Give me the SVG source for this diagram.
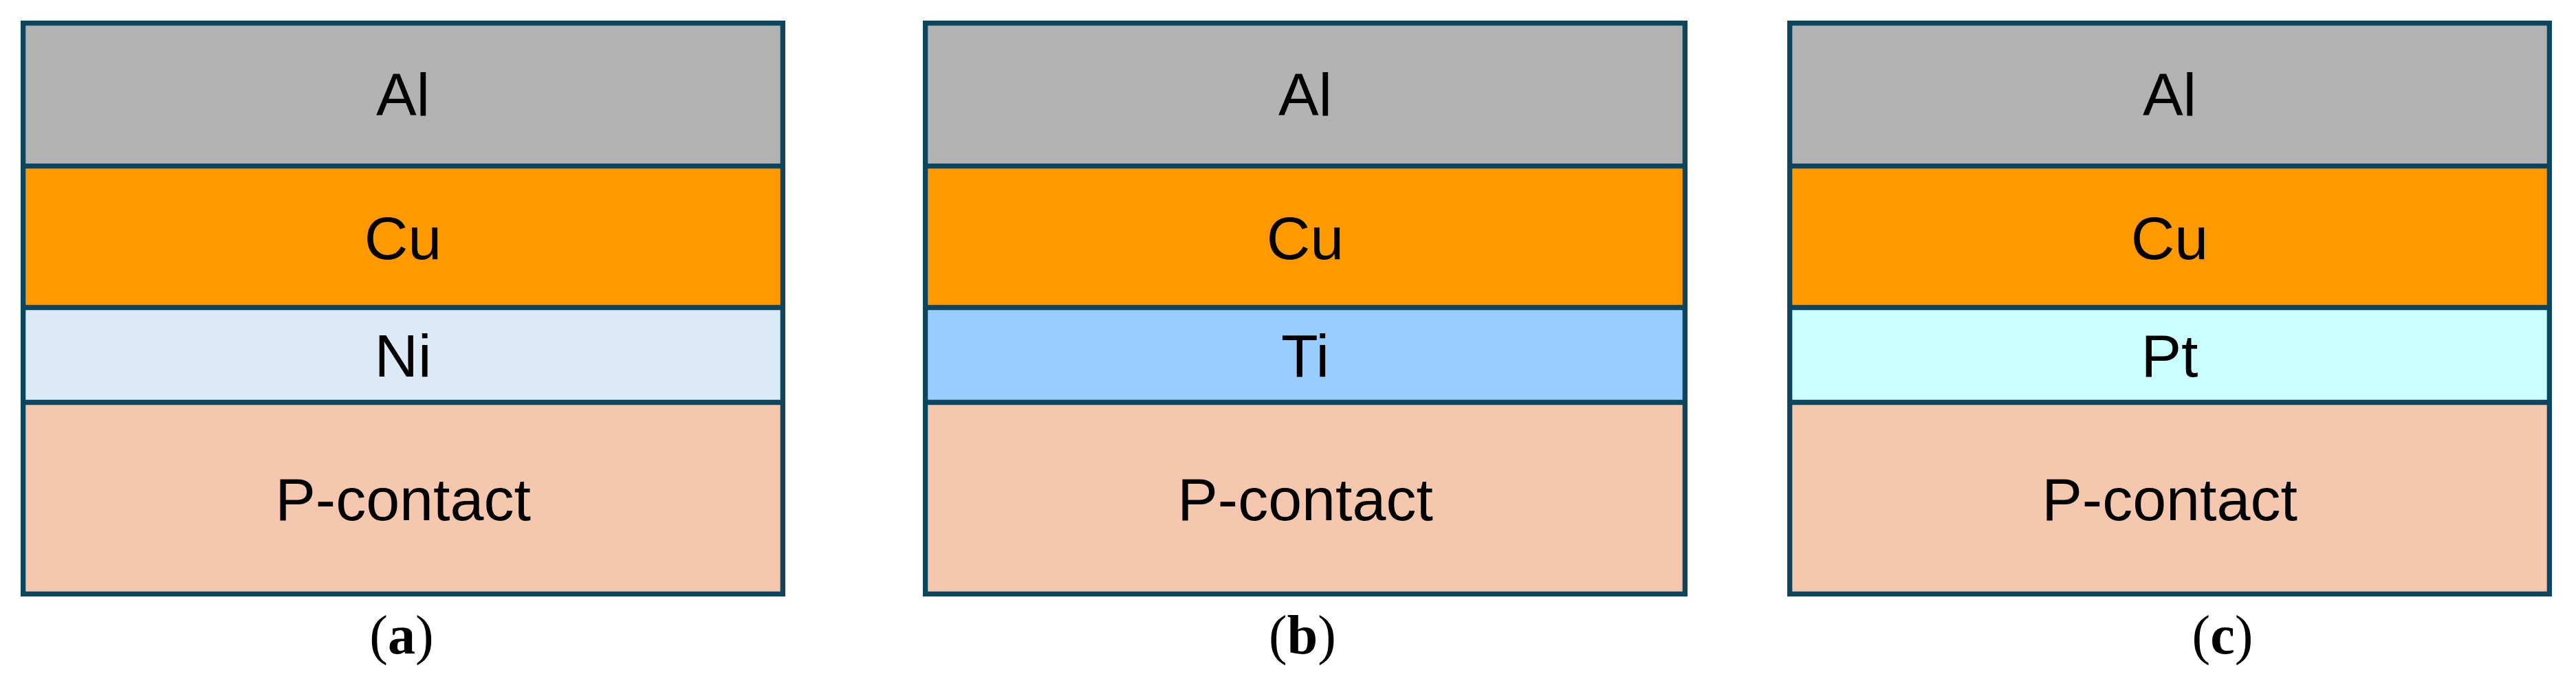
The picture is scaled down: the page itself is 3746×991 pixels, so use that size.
<svg xmlns="http://www.w3.org/2000/svg" width="3746" height="991" viewBox="0 0 3746 991">
<style>
.frame{fill:none;stroke:#0D455F;stroke-width:7.3}
.sep{stroke:#0D455F;stroke-width:7.3}
.al{fill:#B2B2B2}
.cu{fill:#FF9900}
.ni{fill:#DCE9F6}
.ti{fill:#99CCFF}
.pt{fill:#CCFFFF}
.pc{fill:#F5C7AE}
.lbl{font-family:"Liberation Sans","Open Sans",sans-serif;font-size:88px;fill:#000;text-anchor:middle}
.cap{font-family:"Liberation Serif","Times New Roman",serif;font-size:80px;fill:#000;text-anchor:middle}
.capb{font-weight:bold}
</style>
<rect width="3746" height="991" fill="#FFFFFF"/>
<g id="panel-a">
<rect class="al" x="33.65" y="33.65" width="1104.7" height="208"/>
<rect class="cu" x="33.65" y="241.65" width="1104.7" height="205.85"/>
<rect class="ni" x="33.65" y="447.5" width="1104.7" height="138"/>
<rect class="pc" x="33.65" y="585.5" width="1104.7" height="278.85"/>
<line class="sep" x1="30" y1="241.65" x2="1142" y2="241.65"/>
<line class="sep" x1="30" y1="447.5" x2="1142" y2="447.5"/>
<line class="sep" x1="30" y1="585.5" x2="1142" y2="585.5"/>
<rect class="frame" x="33.65" y="33.65" width="1104.7" height="830.7"/>
<text class="lbl" x="586" y="168">Al</text>
<text class="lbl" x="586" y="377">Cu</text>
<text class="lbl" x="586" y="548">Ni</text>
<text class="lbl" x="586" y="757">P-contact</text>
<text class="cap" x="584" y="951">(<tspan class="capb">a</tspan>)</text>
</g>
<g id="panel-b">
<rect class="al" x="1345.65" y="33.65" width="1104.7" height="208"/>
<rect class="cu" x="1345.65" y="241.65" width="1104.7" height="205.85"/>
<rect class="ti" x="1345.65" y="447.5" width="1104.7" height="138"/>
<rect class="pc" x="1345.65" y="585.5" width="1104.7" height="278.85"/>
<line class="sep" x1="1342" y1="241.65" x2="2454" y2="241.65"/>
<line class="sep" x1="1342" y1="447.5" x2="2454" y2="447.5"/>
<line class="sep" x1="1342" y1="585.5" x2="2454" y2="585.5"/>
<rect class="frame" x="1345.65" y="33.65" width="1104.7" height="830.7"/>
<text class="lbl" x="1898" y="168">Al</text>
<text class="lbl" x="1898" y="377">Cu</text>
<text class="lbl" x="1898" y="548">Ti</text>
<text class="lbl" x="1898" y="757">P-contact</text>
<text class="cap" x="1894" y="951">(<tspan class="capb">b</tspan>)</text>
</g>
<g id="panel-c">
<rect class="al" x="2602.65" y="33.65" width="1104.7" height="208"/>
<rect class="cu" x="2602.65" y="241.65" width="1104.7" height="205.85"/>
<rect class="pt" x="2602.65" y="447.5" width="1104.7" height="138"/>
<rect class="pc" x="2602.65" y="585.5" width="1104.7" height="278.85"/>
<line class="sep" x1="2599" y1="241.65" x2="3711" y2="241.65"/>
<line class="sep" x1="2599" y1="447.5" x2="3711" y2="447.5"/>
<line class="sep" x1="2599" y1="585.5" x2="3711" y2="585.5"/>
<rect class="frame" x="2602.65" y="33.65" width="1104.7" height="830.7"/>
<text class="lbl" x="3155" y="168">Al</text>
<text class="lbl" x="3155" y="377">Cu</text>
<text class="lbl" x="3155" y="548">Pt</text>
<text class="lbl" x="3155" y="757">P-contact</text>
<text class="cap" x="3232" y="951">(<tspan class="capb">c</tspan>)</text>
</g>
<g id="connectors"/>
</svg>
